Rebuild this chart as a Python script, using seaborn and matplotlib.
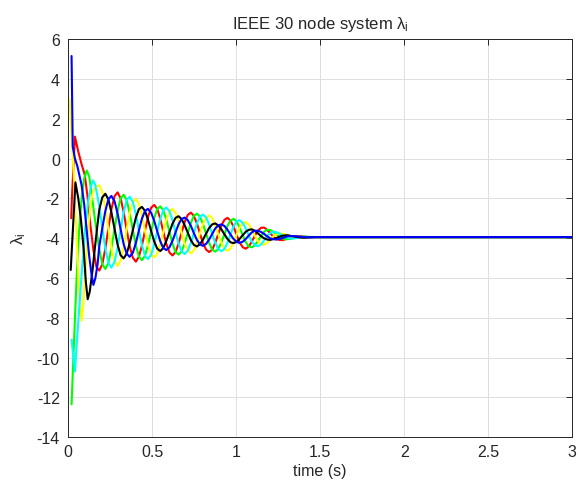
import matplotlib
matplotlib.use("Agg")
import matplotlib.pyplot as plt
import pandas as pd
import seaborn as sns

# ---------------- data ----------------
x_ticks = [0, 0.5, 1, 1.5, 2, 2.5, 3]
x_tick_labels = ["0", "0.5", "1", "1.5", "2", "2.5", "3"]
y_ticks = [-14, -12, -10, -8, -6, -4, -2, 0, 2, 4, 6]
y_tick_labels = ["-14", "-12", "-10", "-8", "-6", "-4", "-2", "0", "2", "4", "6"]

series_names = ["red", "green", "yellow", "cyan", "black", "blue"]

# early transient points (per series)
early_t_black = [0.015, 0.043, 0.06, 0.075, 0.092, 0.105, 0.116, 0.128, 0.145, 0.16, 0.172]
early_v_black = [-5.6, -1.2, -2.0, -3.0, -4.55, -6.2, -7.07, -6.7, -5.6, -4.4, -3.5]
early_t_blue = [0.02, 0.027, 0.04, 0.055, 0.08, 0.095, 0.11, 0.125, 0.14, 0.15, 0.162, 0.175]
early_v_blue = [5.15, 0.6, 0.0, -0.4, -1.35, -2.3, -3.6, -4.9, -5.9, -6.35, -6.0, -5.3]
early_t_red = [0.018, 0.022, 0.04, 0.06, 0.08, 0.098, 0.115, 0.13, 0.15, 0.168]
early_v_red = [-3.0, -2.0, 1.1, 0.35, -0.3, -0.8, -1.9, -3.2, -4.6, -5.45]
early_t_green = [0.02, 0.035, 0.05, 0.065, 0.08, 0.095, 0.11, 0.125, 0.14, 0.155, 0.17]
early_v_green = [-12.35, -9.1, -6.0, -3.6, -2.0, -1.0, -0.6, -0.9, -1.8, -2.8, -3.7]
early_t_cyan = [0.02, 0.04, 0.06, 0.08, 0.1, 0.12, 0.135, 0.148, 0.16, 0.172]
early_v_cyan = [-9.1, -10.7, -8.2, -5.8, -3.6, -2.1, -1.4, -1.1, -1.3, -1.8]
early_t_yellow = [0.008, 0.031, 0.045, 0.06, 0.07, 0.08, 0.09, 0.105, 0.12, 0.135, 0.15, 0.165]
early_v_yellow = [3.0, -0.4, -3.0, -5.8, -7.4, -8.15, -7.3, -5.2, -3.4, -2.2, -1.6, -1.4]

# oscillation phase (shared sample times)
grid_t = [0.185, 0.203, 0.221, 0.239, 0.257, 0.276, 0.294, 0.312, 0.330, 0.348, 0.366, 0.385,
          0.403, 0.421, 0.439, 0.457, 0.475, 0.494, 0.512, 0.530, 0.548, 0.566, 0.584, 0.603,
          0.621, 0.639, 0.657, 0.675, 0.693, 0.712, 0.730, 0.748, 0.766, 0.784, 0.802, 0.821,
          0.839, 0.857, 0.875, 0.893, 0.911, 0.930, 0.948, 0.966, 0.984, 1.002, 1.020, 1.039,
          1.057, 1.075, 1.093, 1.111, 1.129, 1.148, 1.166, 1.184, 1.202, 1.220, 1.238, 1.257,
          1.275, 1.293, 1.311, 1.329, 1.347, 1.366, 1.384, 1.402, 1.420, 1.438, 1.456, 1.475]

osc_black = [-2.57, -1.95, -1.77, -2.05, -2.70, -3.54, -4.33, -4.86, -5.02, -4.78, -4.26, -3.59,
             -2.96, -2.54, -2.43, -2.63, -3.08, -3.65, -4.17, -4.53, -4.65, -4.50, -4.14, -3.69,
             -3.27, -2.98, -2.90, -3.04, -3.35, -3.73, -4.10, -4.34, -4.42, -4.31, -4.08, -3.77,
             -3.49, -3.31, -3.26, -3.36, -3.55, -3.81, -4.04, -4.21, -4.25, -4.19, -4.04, -3.85,
             -3.68, -3.58, -3.56, -3.63, -3.76, -3.90, -4.01, -4.07, -4.09, -4.05, -4.00, -3.93,
             -3.88, -3.86, -3.86, -3.90, -3.92, -3.95, -3.97, -3.98, -3.97, -3.96, -3.95, -3.95]
osc_blue = [-4.41, -3.50, -2.64, -2.05, -1.88, -2.15, -2.77, -3.56, -4.30, -4.78, -4.94, -4.73,
            -4.24, -3.61, -3.02, -2.63, -2.53, -2.73, -3.13, -3.66, -4.16, -4.50, -4.60, -4.46,
            -4.13, -3.71, -3.30, -3.04, -2.97, -3.10, -3.38, -3.75, -4.09, -4.31, -4.39, -4.29,
            -4.07, -3.79, -3.52, -3.36, -3.31, -3.39, -3.58, -3.82, -4.04, -4.19, -4.24, -4.18,
            -4.04, -3.87, -3.71, -3.63, -3.63, -3.69, -3.79, -3.91, -4.01, -4.05, -4.07, -4.03,
            -4.00, -3.94, -3.90, -3.90, -3.90, -3.92, -3.93, -3.95, -3.96, -3.96, -3.96, -3.95]
osc_red = [-5.63, -5.31, -4.53, -3.52, -2.55, -1.89, -1.70, -2.00, -2.69, -3.57, -4.41, -4.99,
           -5.18, -4.93, -4.37, -3.63, -2.93, -2.47, -2.33, -2.53, -3.03, -3.68, -4.29, -4.73,
           -4.87, -4.70, -4.27, -3.72, -3.19, -2.83, -2.72, -2.88, -3.26, -3.76, -4.25, -4.58,
           -4.70, -4.58, -4.24, -3.80, -3.37, -3.08, -2.98, -3.12, -3.42, -3.83, -4.21, -4.46,
           -4.53, -4.42, -4.17, -3.88, -3.63, -3.48, -3.47, -3.58, -3.75, -3.92, -4.05, -4.09,
           -4.10, -4.06, -4.00, -3.95, -3.92, -3.91, -3.91, -3.92, -3.94, -3.95, -3.95, -3.95]
osc_green = [-4.56, -5.31, -5.55, -5.25, -4.51, -3.54, -2.62, -2.00, -1.82, -2.09, -2.75, -3.59,
             -4.39, -4.93, -5.11, -4.89, -4.35, -3.65, -2.99, -2.53, -2.40, -2.60, -3.07, -3.69,
             -4.29, -4.70, -4.83, -4.66, -4.27, -3.73, -3.23, -2.88, -2.77, -2.92, -3.29, -3.77,
             -4.24, -4.58, -4.68, -4.55, -4.23, -3.81, -3.39, -3.12, -3.03, -3.15, -3.47, -3.85,
             -4.20, -4.42, -4.46, -4.36, -4.15, -3.90, -3.68, -3.58, -3.59, -3.68, -3.81, -3.93,
             -4.02, -4.06, -4.05, -4.03, -3.98, -3.95, -3.93, -3.92, -3.93, -3.94, -3.95, -3.95]
osc_cyan = [-2.42, -3.50, -4.53, -5.25, -5.48, -5.19, -4.48, -3.56, -2.69, -2.09, -1.92, -2.19,
            -2.81, -3.61, -4.37, -4.89, -5.05, -4.83, -4.31, -3.66, -3.03, -2.60, -2.46, -2.65,
            -3.11, -3.71, -4.27, -4.66, -4.80, -4.63, -4.25, -3.75, -3.26, -2.92, -2.82, -2.96,
            -3.32, -3.79, -4.24, -4.55, -4.66, -4.54, -4.23, -3.82, -3.42, -3.15, -3.10, -3.24,
            -3.52, -3.87, -4.17, -4.36, -4.41, -4.32, -4.12, -3.91, -3.75, -3.68, -3.70, -3.77,
            -3.86, -3.94, -4.00, -4.03, -4.01, -3.99, -3.97, -3.95, -3.94, -3.94, -3.94, -3.95]
osc_yellow = [-1.35, -1.69, -2.49, -3.52, -4.51, -5.19, -5.40, -5.12, -4.45, -3.57, -2.75, -2.19,
              -2.02, -2.29, -2.87, -3.63, -4.35, -4.83, -4.97, -4.79, -4.31, -3.68, -3.07, -2.65,
              -2.53, -2.72, -3.15, -3.72, -4.27, -4.63, -4.76, -4.62, -4.26, -3.76, -3.29, -2.96,
              -2.86, -3.00, -3.34, -3.80, -4.23, -4.54, -4.64, -4.52, -4.22, -3.83, -3.47, -3.24,
              -3.19, -3.32, -3.57, -3.88, -4.15, -4.32, -4.33, -4.24, -4.09, -3.92, -3.81, -3.77,
              -3.78, -3.82, -3.88, -3.95, -3.98, -3.99, -3.99, -3.98, -3.96, -3.95, -3.95, -3.95]

# settled part
tail_t = [1.6, 3.0]
settled_value = -3.95

# ---------------- build long table ----------------
parts = {
    "red": (early_t_red, early_v_red, osc_red),
    "green": (early_t_green, early_v_green, osc_green),
    "yellow": (early_t_yellow, early_v_yellow, osc_yellow),
    "cyan": (early_t_cyan, early_v_cyan, osc_cyan),
    "black": (early_t_black, early_v_black, osc_black),
    "blue": (early_t_blue, early_v_blue, osc_blue),
}
frames = []
for name in series_names:
    et, ev, osc = parts[name]
    t = list(et) + list(grid_t) + list(tail_t)
    v = list(ev) + list(osc) + [settled_value] * len(tail_t)
    frames.append(pd.DataFrame({"time": t, "lam": v, "series": name}))
df = pd.concat(frames, ignore_index=True)

palette = {"red": "#ff0000", "green": "#00ff00", "yellow": "#ffff00",
           "cyan": "#00ffff", "black": "#000000", "blue": "#0000ff"}

# ---------------- style ----------------
sns.set_style("white")
plt.rcParams["font.family"] = ["Liberation Sans", "DejaVu Sans"]
plt.rcParams["mathtext.fontset"] = "custom"
plt.rcParams["mathtext.rm"] = "Liberation Sans"
plt.rcParams["mathtext.it"] = "Liberation Sans:italic"

fig = plt.figure(figsize=(5.78, 4.89), dpi=100)
ax = fig.add_axes([0.118, 0.104, 0.872, 0.814])

sns.lineplot(data=df, x="time", y="lam", hue="series", hue_order=series_names,
             palette=palette, estimator=None, errorbar=None, sort=False,
             legend=False, linewidth=1.5, ax=ax)

ax.set_xlim(0, 3)
ax.set_ylim(-14, 6)
ax.set_xticks(x_ticks)
ax.set_xticklabels(x_tick_labels)
ax.set_yticks(y_ticks)
ax.set_yticklabels(y_tick_labels)
ax.grid(True, color="#dedede", linewidth=0.7)
ax.set_axisbelow(True)
for s in ax.spines.values():
    s.set_visible(True)
    s.set_color("#262626")
    s.set_linewidth(0.7)
ax.tick_params(direction="in", top=True, right=True, length=4, width=0.7,
               colors="#262626", labelsize=11.5)
ax.tick_params(axis="y", pad=6)
ax.tick_params(axis="x", pad=5)

ax.set_title("IEEE 30 node system λ$_{\\mathrm{i}}$", fontsize=12, color="#262626", pad=8)
ax.set_xlabel("time (s)", fontsize=11.5, color="#262626", labelpad=3)
ax.set_ylabel("λ$_{\\mathrm{i}}$", fontsize=12, color="#262626", labelpad=6)

fig.savefig("out.png", dpi=100)
